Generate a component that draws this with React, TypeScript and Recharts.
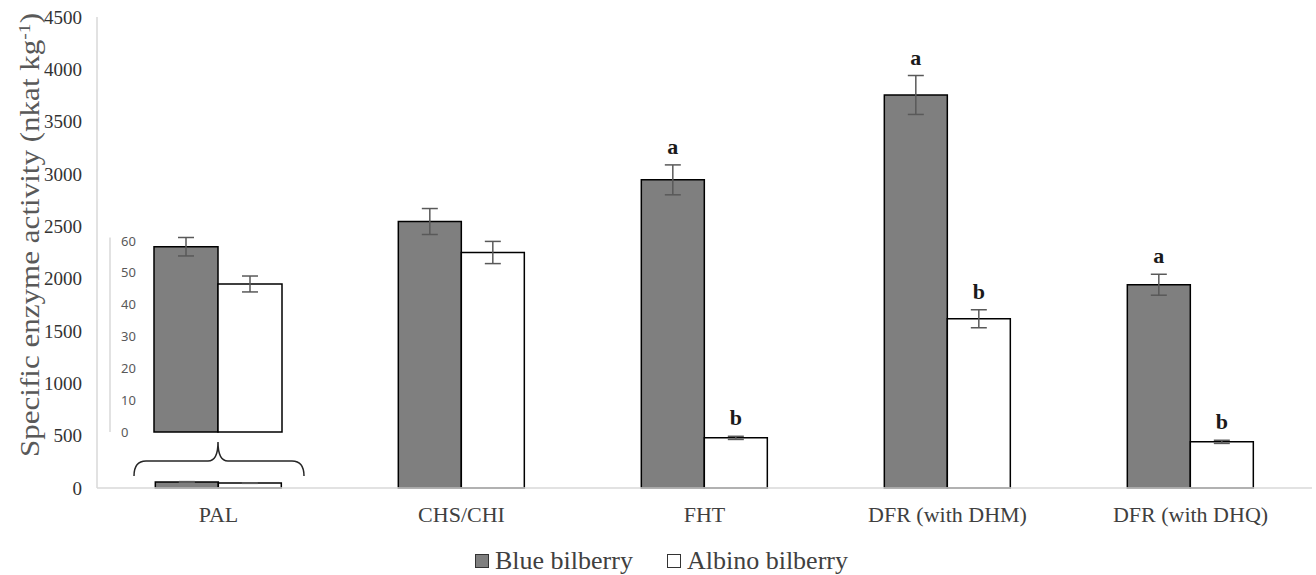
import React from "react";
import { BarChart, Bar, XAxis, YAxis, ErrorBar, LabelList, Legend } from "recharts";

// main chart values (nkat kg-1)
const enzymes = ["PAL", "CHS/CHI", "FHT", "DFR (with DHM)", "DFR (with DHQ)"];
const blueValues = [58, 2546, 2944, 3755, 1942];
const blueErrors = [3, 124, 143, 186, 100];
const albinoValues = [47, 2250, 479, 1617, 441];
const albinoErrors = [2.5, 106, 15, 86, 15];
const blueLetters = ["", "", "a", "a", "a"];
const albinoLetters = ["", "", "b", "b", "b"];
const mainTicks = [0, 500, 1000, 1500, 2000, 2500, 3000, 3500, 4000, 4500];

// inset: PAL zoomed in
const insetBlue = 58.2;
const insetBlueErr = 2.9;
const insetAlbino = 46.5;
const insetAlbinoErr = 2.5;
const insetTicks = [0, 10, 20, 30, 40, 50, 60];

const mainData = enzymes.map((name, i) => ({
  name,
  blue: blueValues[i],
  blueErr: blueErrors[i],
  albino: albinoValues[i],
  albinoErr: albinoErrors[i],
}));

const insetData = [
  { name: "PAL", blue: insetBlue, blueErr: insetBlueErr, albino: insetAlbino, albinoErr: insetAlbinoErr },
];

const SERIF = "'Liberation Serif', 'Times New Roman', serif";
const GREY = "#7f7f7f";

const makeLetter = (letters: string[], errs: number[]) => (props: any) => {
  const { x, y, width, height, value, index } = props;
  const letter = letters[index];
  if (!letter) return null;
  const errPx = value ? (errs[index] * height) / value : 0;
  return (
    <text
      x={x + width / 2}
      y={y - errPx - 11}
      textAnchor="middle"
      fontFamily={SERIF}
      fontSize={22}
      fontWeight={600}
      fill="#1a1a1a"
    >
      {letter}
    </text>
  );
};

const YLabel = () => (
  <text
    transform="translate(39, 235) rotate(-90)"
    textAnchor="middle"
    fontFamily={SERIF}
    fontSize={27}
    fill="#595959"
    textLength={444}
    lengthAdjust="spacingAndGlyphs"
  >
    Specific enzyme activity (nkat kg
    <tspan baselineShift="super" fontSize={17}>-1</tspan>)
  </text>
);

const LegendContent = () => (
  <div
    style={{
      height: 34,
      paddingTop: 6,
      paddingRight: 26,
      boxSizing: "border-box",
      display: "flex",
      justifyContent: "center",
      alignItems: "center",
      fontFamily: SERIF,
      fontSize: 26,
      color: "#404040",
    }}
  >
    <span style={{ display: "flex", alignItems: "center", marginRight: 34 }}>
      <span style={{ width: 12, height: 12, background: GREY, border: "1.5px solid #333", marginRight: 6 }} />
      Blue bilberry
    </span>
    <span style={{ display: "flex", alignItems: "center" }}>
      <span style={{ width: 12, height: 12, background: "#fff", border: "1.5px solid #333", marginRight: 6 }} />
      Albino bilberry
    </span>
  </div>
);

export default function App() {
  return (
    <div style={{ position: "absolute", left: 0, top: 0, width: 1316, height: 575, background: "#fff" }}>
      <BarChart
        width={1316}
        height={575}
        data={mainData}
        margin={{ top: 17, right: 4, left: 37, bottom: 0 }}
        barGap={0}
        barCategoryGap="24%"
      >
        <XAxis
          dataKey="name"
          axisLine={{ stroke: "#d9d9d9", strokeWidth: 1.5 }}
          tickLine={false}
          tickMargin={12}
          height={53}
          tick={{ fontFamily: SERIF, fontSize: 22, fill: "#404040" }}
          interval={0}
        />
        <YAxis
          domain={[0, 4500]}
          ticks={mainTicks}
          width={60}
          axisLine={{ stroke: "#d9d9d9", strokeWidth: 1.5 }}
          tickLine={false}
          tickMargin={9}
          tick={{ fontFamily: SERIF, fontSize: 19, fill: "#333" }}
          label={<YLabel />}
        />
        <Legend verticalAlign="bottom" content={<LegendContent />} />
        <Bar dataKey="blue" name="Blue bilberry" fill={GREY} stroke="#000" strokeWidth={1.5} isAnimationActive={false}>
          <ErrorBar dataKey="blueErr" width={8} stroke="#595959" strokeWidth={1.5} />
          <LabelList dataKey="blue" content={makeLetter(blueLetters, blueErrors)} />
        </Bar>
        <Bar dataKey="albino" name="Albino bilberry" fill="#fff" stroke="#000" strokeWidth={1.5} isAnimationActive={false}>
          <ErrorBar dataKey="albinoErr" width={8} stroke="#595959" strokeWidth={1.5} />
          <LabelList dataKey="albino" content={makeLetter(albinoLetters, albinoErrors)} />
        </Bar>
      </BarChart>

      {/* inset with the PAL values on their own scale */}
      <div style={{ position: "absolute", left: 100, top: 225, width: 230, height: 245 }}>
        <BarChart
          width={230}
          height={245}
          data={insetData}
          margin={{ top: 12.5, right: 4, left: 10, bottom: 38 }}
          barGap={0}
          barSize={64}
        >
          <XAxis dataKey="name" hide />
          <YAxis
            domain={[0, 60]}
            ticks={insetTicks}
            mirror
            width={10}
            axisLine={{ stroke: "#d9d9d9", strokeWidth: 1.5 }}
            tickLine={false}
            tickMargin={5}
            tick={{ fontFamily: "'Noto Sans', sans-serif", fontSize: 13, fill: "#595959" }}
          />
          <Bar dataKey="blue" fill={GREY} stroke="#000" strokeWidth={1.5} isAnimationActive={false}>
            <ErrorBar dataKey="blueErr" width={8} stroke="#595959" strokeWidth={1.5} />
          </Bar>
          <Bar dataKey="albino" fill="#fff" stroke="#000" strokeWidth={1.5} isAnimationActive={false}>
            <ErrorBar dataKey="albinoErr" width={8} stroke="#595959" strokeWidth={1.5} />
          </Bar>
        </BarChart>
      </div>

      {/* brace linking the inset to the PAL bars */}
      <svg style={{ position: "absolute", left: 0, top: 0 }} width={1316} height={575} pointerEvents="none">
        <path
          d="M134,476 Q134,461 146,461 L208,461 Q218,461 218,442 Q218,461 228,461 L292,461 Q304,461 304,476"
          fill="none"
          stroke="#262626"
          strokeWidth={1.5}
        />
      </svg>
    </div>
  );
}
